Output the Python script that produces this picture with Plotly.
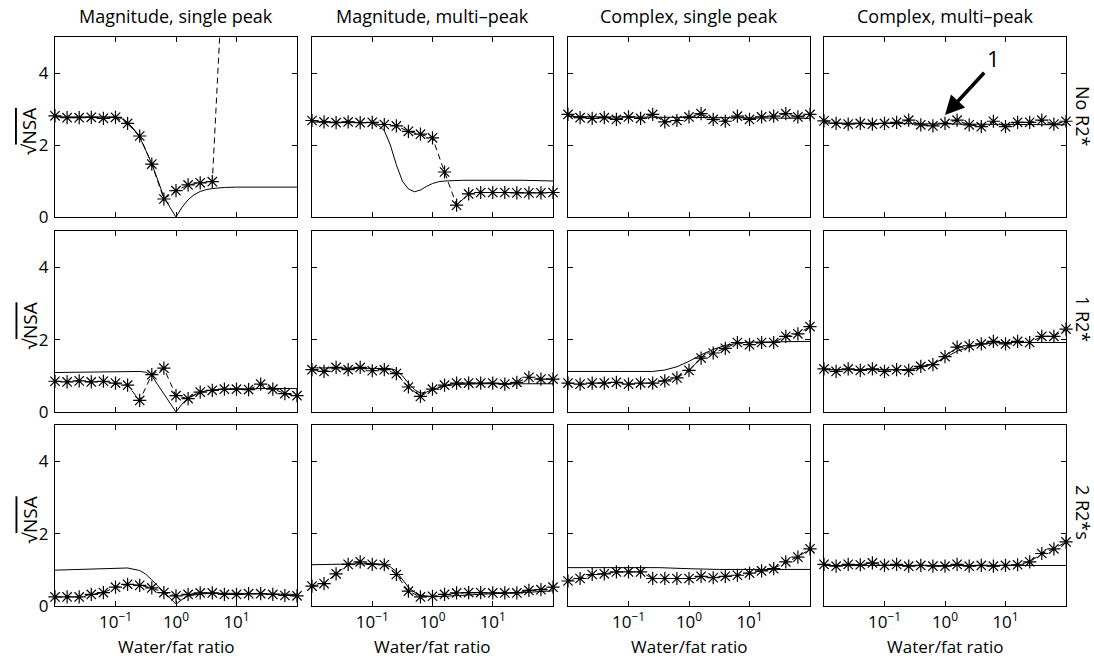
import plotly.graph_objects as go

# ---- sampling grid: water/fat ratio, as log10 exponents -----------------
RATIO_EXP = [-2.0, -1.8, -1.6, -1.4, -1.2, -1.0, -0.8, -0.6, -0.4, -0.2, 0.0,
             0.2, 0.4, 0.6, 0.8, 1.0, 1.2, 1.4, 1.6, 1.8, 2.0]

COL_TITLES = ["Magnitude, single peak", "Magnitude, multi\u2013peak",
              "Complex, single peak", "Complex, multi\u2013peak"]
ROW_LABELS = ["No R2*", "1 R2*", "2 R2*s"]
X_TICK_EXP = [-1, 0, 1]
X_TICK_TEXT = ["10<sup>\u22121</sup>", "10<sup>0</sup>", "10<sup>1</sup>"]
Y_TICKS = [0, 2, 4]

# ---- simulated sqrt(NSA) (asterisks, dashed) -----------------------------
# None = value above the plotted range
SIM_R1C1 = [2.81, 2.76, 2.76, 2.77, 2.74, 2.77, 2.60, 2.25, 1.47, 0.50, 0.73,
            0.89, 0.95, 0.98, 7.6, None, None, None, None, None, None]
SIM_R1C2 = [2.68, 2.64, 2.62, 2.64, 2.62, 2.63, 2.57, 2.53, 2.38, 2.30, 2.20,
            1.25, 0.33, 0.64, 0.68, 0.68, 0.68, 0.67, 0.67, 0.67, 0.68]
SIM_R1C3 = [2.85, 2.76, 2.74, 2.76, 2.71, 2.78, 2.74, 2.85, 2.64, 2.68, 2.78,
            2.87, 2.71, 2.66, 2.80, 2.71, 2.78, 2.80, 2.87, 2.78, 2.85]
SIM_R1C4 = [2.67, 2.60, 2.58, 2.60, 2.58, 2.60, 2.63, 2.69, 2.56, 2.53, 2.60,
            2.69, 2.56, 2.51, 2.66, 2.51, 2.63, 2.63, 2.69, 2.58, 2.66]

SIM_R2C1 = [0.85, 0.83, 0.86, 0.83, 0.85, 0.80, 0.74, 0.32, 1.03, 1.21, 0.45,
            0.37, 0.55, 0.60, 0.63, 0.63, 0.62, 0.77, 0.63, 0.51, 0.45]
SIM_R2C2 = [1.17, 1.12, 1.23, 1.17, 1.23, 1.14, 1.17, 1.06, 0.69, 0.43, 0.63,
            0.74, 0.80, 0.80, 0.80, 0.80, 0.77, 0.82, 0.96, 0.91, 0.91]
SIM_R2C3 = [0.80, 0.77, 0.80, 0.80, 0.82, 0.77, 0.80, 0.80, 0.86, 0.94, 1.15,
            1.49, 1.63, 1.76, 1.92, 1.86, 1.92, 1.92, 2.09, 2.16, 2.36]
SIM_R2C4 = [1.19, 1.12, 1.19, 1.15, 1.19, 1.12, 1.17, 1.15, 1.26, 1.31, 1.53,
            1.79, 1.83, 1.88, 1.95, 1.88, 1.95, 1.92, 2.09, 2.09, 2.29]

SIM_R3C1 = [0.25, 0.25, 0.25, 0.32, 0.37, 0.52, 0.60, 0.57, 0.50, 0.37, 0.28,
            0.32, 0.36, 0.36, 0.32, 0.32, 0.34, 0.34, 0.32, 0.29, 0.28]
SIM_R3C2 = [0.55, 0.62, 0.89, 1.15, 1.22, 1.15, 1.14, 0.87, 0.41, 0.25, 0.27,
            0.32, 0.36, 0.37, 0.37, 0.36, 0.36, 0.36, 0.43, 0.45, 0.52]
SIM_R3C3 = [0.69, 0.76, 0.87, 0.89, 0.94, 0.94, 0.94, 0.76, 0.76, 0.76, 0.76,
            0.82, 0.78, 0.82, 0.85, 0.91, 0.97, 1.03, 1.22, 1.35, 1.58]
SIM_R3C4 = [1.15, 1.10, 1.15, 1.14, 1.19, 1.12, 1.15, 1.10, 1.12, 1.10, 1.10,
            1.15, 1.10, 1.12, 1.10, 1.12, 1.14, 1.22, 1.45, 1.58, 1.77]

# ---- theoretical sqrt(NSA) (solid), exponent / value pairs ---------------
THEO_R1C1_EXP = [-2.0, -1.0, -0.9, -0.8, -0.7, -0.6, -0.5, -0.4, -0.3, -0.2,
                 -0.1, 0.0, 0.1, 0.2, 0.3, 0.4, 0.5, 0.6, 0.8, 1.0, 2.0]
THEO_R1C1 = [2.78, 2.78, 2.74, 2.62, 2.45, 2.22, 1.85, 1.48, 1.02, 0.55,
             0.27, 0.0, 0.27, 0.48, 0.62, 0.71, 0.76, 0.79, 0.82, 0.83, 0.83]
THEO_R1C2_EXP = [-2.0, -1.0, -0.9, -0.8, -0.7, -0.6, -0.5, -0.4, -0.3, -0.2,
                 -0.1, 0.0, 0.1, 0.2, 0.5, 1.0, 1.5, 2.0]
THEO_R1C2 = [2.64, 2.62, 2.55, 2.40, 2.00, 1.45, 1.00, 0.78, 0.70, 0.75,
             0.85, 0.93, 0.98, 1.00, 1.02, 1.03, 1.02, 1.00]
THEO_R1C3_EXP = [-2.0, 0.0, 2.0]
THEO_R1C3 = [2.79, 2.77, 2.74]
THEO_R1C4_EXP = [-2.0, 0.0, 2.0]
THEO_R1C4 = [2.61, 2.59, 2.56]

THEO_R2C1_EXP = [-2.0, -1.0, -0.6, -0.5, -0.4, -0.3, -0.2, -0.1, 0.0, 0.1,
                 0.2, 0.4, 0.6, 0.8, 1.0, 1.5, 2.0]
THEO_R2C1 = [1.09, 1.12, 1.12, 1.10, 1.00, 0.75, 0.50, 0.25, 0.0, 0.22,
             0.39, 0.55, 0.61, 0.63, 0.64, 0.65, 0.65]
THEO_R2C2_EXP = [-2.0, -0.8, -0.7, -0.6, -0.5, -0.4, -0.3, -0.2, -0.1, 0.0,
                 0.2, 0.4, 0.8, 2.0]
THEO_R2C2 = [1.22, 1.22, 1.20, 1.15, 1.00, 0.80, 0.62, 0.52, 0.55, 0.62,
             0.72, 0.76, 0.78, 0.78]
THEO_R2C3_EXP = [-2.0, -0.6, -0.4, -0.2, 0.0, 0.2, 0.4, 0.6, 0.8, 1.0, 2.0]
THEO_R2C3 = [1.12, 1.12, 1.16, 1.25, 1.40, 1.58, 1.73, 1.84, 1.90, 1.93, 1.95]
THEO_R2C4_EXP = [-2.0, -0.6, -0.4, -0.2, 0.0, 0.2, 0.4, 0.6, 0.8, 1.0, 2.0]
THEO_R2C4 = [1.17, 1.17, 1.22, 1.33, 1.50, 1.68, 1.80, 1.87, 1.91, 1.92, 1.92]

THEO_R3C1_EXP = [-2.0, -1.5, -1.0, -0.8, -0.6, -0.5, -0.4, -0.3, -0.2, -0.1,
                 0.0, 0.1, 0.2, 0.4, 0.6, 1.0, 2.0]
THEO_R3C1 = [0.99, 1.01, 1.04, 1.05, 0.98, 0.88, 0.72, 0.55, 0.38, 0.20,
             0.05, 0.18, 0.28, 0.33, 0.35, 0.35, 0.32]
THEO_R3C2_EXP = [-2.0, -1.4, -1.0, -0.8, -0.7, -0.6, -0.5, -0.4, -0.3, -0.2,
                 0.0, 0.4, 1.0, 1.6, 2.0]
THEO_R3C2 = [1.14, 1.15, 1.17, 1.15, 1.08, 0.95, 0.75, 0.52, 0.38, 0.30,
             0.25, 0.29, 0.34, 0.38, 0.42]
THEO_R3C3_EXP = [-2.0, -0.5, 0.0, 0.5, 2.0]
THEO_R3C3 = [1.06, 1.06, 1.03, 1.01, 1.01]
THEO_R3C4_EXP = [-2.0, 0.0, 2.0]
THEO_R3C4 = [1.12, 1.12, 1.12]

SIM = [[SIM_R1C1, SIM_R1C2, SIM_R1C3, SIM_R1C4],
       [SIM_R2C1, SIM_R2C2, SIM_R2C3, SIM_R2C4],
       [SIM_R3C1, SIM_R3C2, SIM_R3C3, SIM_R3C4]]
THEO = [[(THEO_R1C1_EXP, THEO_R1C1), (THEO_R1C2_EXP, THEO_R1C2),
         (THEO_R1C3_EXP, THEO_R1C3), (THEO_R1C4_EXP, THEO_R1C4)],
        [(THEO_R2C1_EXP, THEO_R2C1), (THEO_R2C2_EXP, THEO_R2C2),
         (THEO_R2C3_EXP, THEO_R2C3), (THEO_R2C4_EXP, THEO_R2C4)],
        [(THEO_R3C1_EXP, THEO_R3C1), (THEO_R3C2_EXP, THEO_R3C2),
         (THEO_R3C3_EXP, THEO_R3C3), (THEO_R3C4_EXP, THEO_R3C4)]]

# ---- page geometry (pixels) -----------------------------------------------
W, H = 1094, 659
COL_PX = [(55, 297), (312, 553), (568, 810), (824, 1066)]
ROW_PX = [(37, 217), (231, 412), (425, 606)]
Y_MAX = 5
FONT = "Open Sans"
INK = "black"


def px_x(px):
    return px / W


def px_y(px):
    return 1 - px / H


fig = go.Figure()
layout = dict(width=W, height=H,
              margin=dict(l=0, r=0, t=0, b=0, pad=0, autoexpand=False),
              paper_bgcolor="white", plot_bgcolor="white", showlegend=False,
              font=dict(family=FONT, size=17, color=INK))
annotations = []

for r in range(3):
    for c in range(4):
        k = r * 4 + c + 1
        xa, ya = f"x{k}", f"y{k}"
        sim = SIM[r][c]
        theo_exp, theo_val = THEO[r][c]
        ratio = [10 ** e for e in RATIO_EXP]

        fig.add_trace(go.Scatter(
            x=[10 ** e for e in theo_exp], y=theo_val, mode="lines",
            line=dict(color=INK, width=1), xaxis=xa, yaxis=ya))
        fig.add_trace(go.Scatter(
            x=ratio, y=sim, mode="lines", connectgaps=False,
            line=dict(color=INK, width=1, dash="6px,4px"),
            xaxis=xa, yaxis=ya))
        pts = [(xv, yv) for xv, yv in zip(ratio, sim)
               if yv is not None and yv <= Y_MAX]
        fig.add_trace(go.Scatter(
            x=[p[0] for p in pts], y=[p[1] for p in pts], mode="markers",
            cliponaxis=False,
            marker=dict(symbol="asterisk-open", size=11, color=INK,
                        line=dict(color=INK, width=1.2)),
            xaxis=xa, yaxis=ya))

        x0, x1 = COL_PX[c]
        yt, yb = ROW_PX[r]
        axis_common = dict(showline=True, linecolor=INK, linewidth=1,
                           mirror="allticks", ticks="inside", ticklen=5,
                           tickcolor=INK, tickwidth=1, showgrid=False,
                           zeroline=False, automargin=False,
                           tickfont=dict(family=FONT, size=17))
        layout[f"xaxis{k}"] = dict(
            axis_common, type="log", range=[-2, 2],
            domain=[px_x(x0), px_x(x1)], anchor=ya,
            tickvals=[10 ** e for e in X_TICK_EXP], ticktext=X_TICK_TEXT,
            showticklabels=(r == 2), ticklabelstandoff=1)
        layout[f"yaxis{k}"] = dict(
            axis_common, range=[0, Y_MAX],
            domain=[px_y(yb), px_y(yt)], anchor=xa,
            tickvals=Y_TICKS, showticklabels=(c == 0), ticklabelstandoff=2)

# column titles and x-axis titles
for c, title in enumerate(COL_TITLES):
    x0, x1 = COL_PX[c]
    annotations.append(dict(text=title, xref="paper", yref="paper",
                            x=px_x((x0 + x1) / 2), y=px_y(16),
                            xanchor="center", yanchor="middle",
                            showarrow=False, font=dict(size=18)))
    annotations.append(dict(text="Water/fat ratio", xref="paper",
                            yref="paper", x=px_x((x0 + x1) / 2),
                            y=px_y(646), xanchor="center",
                            yanchor="middle", showarrow=False,
                            font=dict(size=17)))

# row labels (right) and sqrt(NSA) labels (left)
ROW_LABEL_Y = [116, 319, 512]
for r, lab in enumerate(ROW_LABELS):
    annotations.append(dict(text=lab, xref="paper", yref="paper",
                            x=px_x(1083), y=px_y(ROW_LABEL_Y[r]),
                            xanchor="center", yanchor="middle",
                            textangle=90, showarrow=False,
                            font=dict(size=18)))
    yt, yb = ROW_PX[r]
    annotations.append(dict(
        text="\u221a<span style='text-decoration:overline'>NSA</span>",
        xref="paper", yref="paper", x=px_x(29), y=px_y((yt + yb) / 2 + 4),
        xanchor="center", yanchor="middle",
        textangle=-90, showarrow=False, font=dict(size=19)))

# arrow marker "1" in the complex multi-peak panel
annotations.append(dict(text="", xref="x4", yref="y4", x=0.0, y=2.83,
                        axref="x4", ayref="y4", ax=0.67, ay=4.05,
                        showarrow=True, arrowhead=2, arrowsize=1.1,
                        arrowwidth=3.5, arrowcolor=INK, standoff=0))
annotations.append(dict(text="1", xref="x4", yref="y4", x=0.8, y=4.42,
                        xanchor="center", yanchor="middle",
                        showarrow=False, font=dict(size=22)))

layout["annotations"] = annotations
fig.update_layout(**layout)
fig.write_html("out.html")
